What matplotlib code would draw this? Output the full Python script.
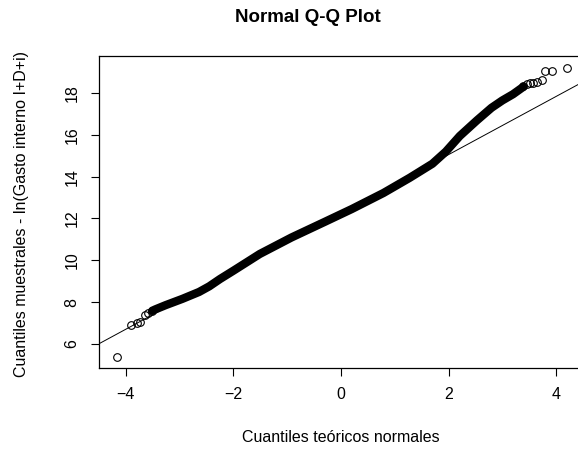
import numpy as np
import matplotlib
matplotlib.use("Agg")
import matplotlib.pyplot as plt

plt.rcParams['font.family'] = ['Liberation Sans', 'DejaVu Sans']

# the data
# single points in the lower tail (theoretical, sample)
low_x = [-4.16, -3.91, -3.79, -3.73, -3.65, -3.59, -3.51]
low_y = [5.38, 6.89, 6.98, 7.05, 7.37, 7.48, 7.58]

# dense body of the curve
body_x = [-3.51, -3.45, -3.26, -2.95, -2.64, -2.45, -2.25, -2.0, -1.51, -0.92,
          -0.30, 0.20, 0.79, 1.28, 1.70, 1.95, 2.21, 2.53, 2.80, 3.00, 3.20, 3.39]
body_y = [7.58, 7.65, 7.85, 8.15, 8.48, 8.75, 9.1, 9.5, 10.3, 11.09,
          11.84, 12.45, 13.22, 13.95, 14.62, 15.2, 15.95, 16.7, 17.3, 17.65, 17.95, 18.3]

# single points in the upper tail
high_x = [3.39, 3.46, 3.52, 3.58, 3.64, 3.73, 3.80, 3.92, 4.21]
high_y = [18.33, 18.42, 18.49, 18.5, 18.52, 18.62, 19.05, 19.05, 19.21]

# qqline
line_intercept = 12.27
line_slope = 1.393

fig = plt.figure(figsize=(5.78, 4.5), dpi=100)
ax = fig.add_axes([99 / 578, 82 / 450, 485 / 578, 312 / 450])

ax.plot(body_x, body_y, color='black', lw=6, solid_capstyle='round',
        solid_joinstyle='round', zorder=2)
ax.plot(low_x, low_y, 'o', mfc='none', mec='black', ms=5.5, mew=0.8, zorder=3)
ax.plot(high_x, high_y, 'o', mfc='none', mec='black', ms=5.5, mew=0.8, zorder=3)
ax.axline((0, line_intercept), slope=line_slope, color='black', lw=0.7, zorder=1)

# axes and labels
ax.set_xlim(-4.5, 4.52)
ax.set_ylim(4.84, 19.78)
ax.set_xticks([-4, -2, 0, 2, 4])
ax.set_yticks([6, 8, 10, 12, 14, 16, 18])
ax.tick_params(direction='out', length=6, width=0.8, labelsize=11.5, pad=8)
plt.setp(ax.get_yticklabels(), rotation=90, va='center')
for s in ax.spines.values():
    s.set_linewidth(0.9)

fig.text(341 / 578, 1 - 438 / 450, 'Cuantiles teóricos normales',
         ha='center', va='center', fontsize=11.5)
fig.text(22 / 578, 1 - 214 / 450, 'Cuantiles muestrales - ln(Gasto interno I+D+i)',
         ha='center', va='center', rotation=90, fontsize=11.5)
fig.text(308 / 578, 1 - 17 / 450, 'Normal Q-Q Plot', ha='center', va='center',
         fontsize=13.5, fontweight='bold')

fig.savefig('out.png', dpi=100)
